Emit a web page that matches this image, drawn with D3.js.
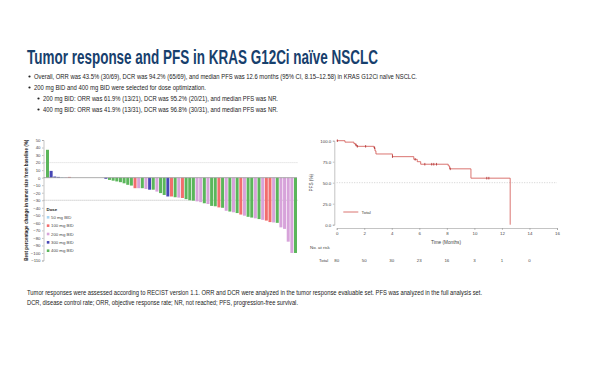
<!DOCTYPE html>
<html>
<head>
<meta charset="utf-8">
<script src="https://cdn.jsdelivr.net/npm/d3@7"></script>
<style>
  body { margin: 0; background: #fff; }
  svg text { font-family: "Liberation Sans", Arial, Helvetica, sans-serif; }
</style>
</head>
<body>
<div id="chart"></div>
<script>
// dose groups and waterfall data (best % change, one bar per patient, sorted)
const doseLabels = ['50 mg BID', '100 mg BID', '200 mg BID', '300 mg BID', '400 mg BID'];

const bestChange = [
    37, 9, 1.5, 1, 0.8, 0.5, 1,
    0, 0, 0, 0, 0, 0, 0, 0, 0,
    -1.5, -3, -4, -5, -6, -7.5, -9.5, -10.5,
    -14, -14, -14, -15, -16, -16, -18.5, -20.5, -23, -25, -25, -26, -26.5, -27,
    -28.5, -30, -30.5, -31.5, -32.5, -34, -35,
    -37.5, -38, -39.5, -40, -44, -45, -46, -47, -49, -50.5, -52, -53, -54, -55,
    -56, -57, -59, -59.5, -60, -66, -68, -85, -100, -100
];

const patientDose = [
    '400 mg BID', '300 mg BID', '300 mg BID', '300 mg BID', '50 mg BID', '200 mg BID', '100 mg BID',
    '400 mg BID', '200 mg BID', '400 mg BID', '50 mg BID', '200 mg BID', '400 mg BID', '100 mg BID', '200 mg BID', '400 mg BID',
    '300 mg BID', '400 mg BID', '400 mg BID', '400 mg BID', '400 mg BID', '400 mg BID', '400 mg BID', '400 mg BID',
    '100 mg BID', '200 mg BID', '400 mg BID', '200 mg BID', '300 mg BID', '400 mg BID', '200 mg BID', '400 mg BID',
    '400 mg BID', '300 mg BID', '100 mg BID', '400 mg BID', '200 mg BID', '100 mg BID',
    '400 mg BID', '400 mg BID', '400 mg BID', '200 mg BID', '200 mg BID', '400 mg BID', '200 mg BID',
    '400 mg BID', '400 mg BID', '100 mg BID', '400 mg BID', '200 mg BID', '400 mg BID', '200 mg BID', '400 mg BID',
    '100 mg BID', '200 mg BID', '400 mg BID', '400 mg BID', '200 mg BID', '400 mg BID',
    '200 mg BID', '100 mg BID', '100 mg BID', '200 mg BID', '400 mg BID', '200 mg BID', '200 mg BID',
    '200 mg BID', '200 mg BID', '400 mg BID'
];

const waterfallTicks = d3.range(-110, 51, 10);
const waterfallRefLines = [20, -30];

// KM curve (PFS, full analysis set)
const kmTimes = [0, 0.6, 1.25, 1.35, 1.45, 2.7, 2.78, 2.85, 4.05, 5.6, 5.85, 6.1, 8.1, 8.2, 9.75, 12.6];
const kmSurv = [100, 98.3, 96.6, 95.0, 93.3, 91.6, 87.9, 84.2, 81.0, 77.8, 75.0, 72.0, 70.0, 66.5, 55.4, 0];
const censorTimes = [0.05, 1.4, 1.5, 2.1, 2.75, 4.05, 5.7, 6.4, 6.9, 7.05, 7.25, 8.25, 10.9, 11.05];

const kmXTicks = [0, 2, 4, 6, 8, 10, 12, 14, 16];
const kmYTicks = [0, 25, 50, 75, 100];
const riskTimes = [0, 2, 4, 6, 8, 10, 12, 14];
const riskCounts = [80, 50, 30, 23, 16, 3, 1, 0];

const titleText = 'Tumor response and PFS in KRAS G12Ci naïve NSCLC';
const bullets = [
    'Overall, ORR was 43.5% (30/69), DCR was 94.2% (65/69), and median PFS was 12.6 months (95% CI, 8.15–12.58) in KRAS G12Ci naïve NSCLC.',
    '200 mg BID and 400 mg BID were selected for dose optimization.',
    '200 mg BID: ORR was 61.9% (13/21), DCR was 95.2% (20/21), and median PFS was NR.',
    '400 mg BID: ORR was 41.9% (13/31), DCR was 96.8% (30/31), and median PFS was NR.'
];
const footnotes = [
    'Tumor responses were assessed according to RECIST version 1.1. ORR and DCR were analyzed in the tumor response evaluable set. PFS was analyzed in the full analysis set.',
    'DCR, disease control rate; ORR, objective response rate; NR, not reached; PFS, progression-free survival.'
];

(function () {

    const doseColor = d3.scaleOrdinal()
        .domain(doseLabels)
        .range(['#a8d5f2', '#f26d6d', '#d7a3da', '#4646b5', '#5bb65b']);

    const svg = d3.select('#chart').append('svg')
        .attr('width', 600)
        .attr('height', 365);

    function addText (g, str, x, y, size, opts) {
        opts = opts || {};
        const t = g.append('text')
            .attr('x', x)
            .attr('y', y)
            .attr('font-size', size)
            .attr('fill', opts.fill || '#222')
            .attr('text-anchor', opts.anchor || 'start')
            .text(str);
        if (opts.weight) t.attr('font-weight', opts.weight);
        if (opts.width) t.attr('textLength', opts.width).attr('lengthAdjust', 'spacingAndGlyphs');
        return t;
    }

    /**
     * header text
     */
    const header = svg.append('g');
    addText(header, titleText, 27, 63.5, 20, { fill: '#17406d', weight: 'bold', width: 351 });

    const bulletRows = [
        { x: 34, y: 78.5, w: 383, dot: 29.5 },
        { x: 34, y: 89.5, w: 172, dot: 29.5 },
        { x: 43, y: 100.5, w: 235, dot: 38.5 },
        { x: 43, y: 111.5, w: 235, dot: 38.5 }
    ];
    bullets.forEach((b, i) => {
        const r = bulletRows[i];
        header.append('circle').attr('cx', r.dot).attr('cy', r.y - 2).attr('r', 1.1).attr('fill', '#222');
        addText(header, b, r.x, r.y, 6.6, { width: r.w });
    });

    const foot = svg.append('g');
    addText(foot, footnotes[0], 27, 294.5, 6.6, { width: 455 });
    addText(foot, footnotes[1], 27, 305, 6.6, { width: 271 });

    /**
     * waterfall
     */
    const wf = svg.append('g');
    const wx = d3.scaleBand().domain(d3.range(bestChange.length)).range([46, 297]).paddingInner(0.18);
    const wy = d3.scaleLinear().domain([-110, 50]).range([260.5, 140]);

    waterfallRefLines.forEach(v => {
        wf.append('line')
            .attr('x1', 43.5).attr('x2', 298)
            .attr('y1', wy(v)).attr('y2', wy(v))
            .attr('stroke', v > 0 ? '#cfcfcf' : '#a8a8a8')
            .attr('stroke-width', 0.7)
            .attr('stroke-dasharray', '1.2,0.8');
    });

    wf.selectAll('rect.bar')
        .data(bestChange)
        .join('rect')
        .attr('class', 'bar')
        .attr('x', (d, i) => wx(i))
        .attr('width', wx.bandwidth())
        .attr('y', d => wy(Math.max(0, d)))
        .attr('height', d => Math.abs(wy(d) - wy(0)))
        .attr('fill', (d, i) => doseColor(patientDose[i]));

    wf.append('line')
        .attr('x1', 43.5).attr('x2', 297)
        .attr('y1', wy(0)).attr('y2', wy(0))
        .attr('stroke', '#999')
        .attr('stroke-width', 0.8);

    const wAxis = wf.append('g')
        .attr('transform', 'translate(43.5,0)')
        .call(d3.axisLeft(wy).tickValues(waterfallTicks).tickSize(1.5).tickPadding(1.5));
    wAxis.selectAll('text').attr('font-size', 4.3).attr('fill', '#444')
        .style('font-family', '"Liberation Sans", Arial, sans-serif');
    wAxis.selectAll('line, path').attr('stroke', '#888').attr('stroke-width', 0.5);

    addText(wf, 'Best percentage change in tumor size from baseline (%)', 0, 0, 5.4, { anchor: 'middle', weight: 'bold', width: 121 })
        .attr('transform', `translate(28,${wy(-30)}) rotate(-90)`);

    // legend
    addText(wf, 'Dose', 46.5, 210.5, 4.4, { weight: 'bold' });
    doseLabels.forEach((lab, i) => {
        const cy = 217.3 + i * 8.35;
        wf.append('rect').attr('x', 46.8).attr('y', cy - 1.3).attr('width', 2.6).attr('height', 2.6).attr('fill', doseColor(lab));
        addText(wf, lab, 51, cy + 1.5, 4.3, { fill: '#444' });
    });

    /**
     * KM curve
     */
    const km = svg.append('g');
    const kx = d3.scaleLinear().domain([0, 16]).range([336.7, 557]);
    const ky = d3.scaleLinear().domain([0, 100]).range([224.7, 140.7]);

    km.append('line')
        .attr('x1', kx(0)).attr('x2', kx(16))
        .attr('y1', ky(50)).attr('y2', ky(50))
        .attr('stroke', '#bbb').attr('stroke-width', 0.7).attr('stroke-dasharray', '1,1.5');

    const kmPts = kmTimes.map((t, i) => ({ t: t, s: kmSurv[i] }));
    const kmLine = d3.line().curve(d3.curveStepAfter).x(d => kx(d.t)).y(d => ky(d.s));
    km.append('path')
        .datum(kmPts)
        .attr('d', kmLine)
        .attr('fill', 'none')
        .attr('stroke', '#d0504c')
        .attr('stroke-width', 0.8);

    const survAt = t => {
        let s = 100;
        kmPts.forEach(p => { if (p.t <= t) s = p.s; });
        return s;
    };
    km.selectAll('line.censor')
        .data(censorTimes)
        .join('line')
        .attr('class', 'censor')
        .attr('x1', d => kx(d)).attr('x2', d => kx(d))
        .attr('y1', d => ky(survAt(d)) - 1.3).attr('y2', d => ky(survAt(d)) + 1.3)
        .attr('stroke', '#a81e1e').attr('stroke-width', 0.7);

    const kyAxis = km.append('g')
        .attr('transform', 'translate(334.3,0)')
        .call(d3.axisLeft(ky).tickValues(kmYTicks).tickFormat(d3.format('.1f')).tickSize(1.5).tickPadding(1.5));
    const kxAxis = km.append('g')
        .attr('transform', 'translate(0,228)')
        .call(d3.axisBottom(kx).tickValues(kmXTicks).tickSize(2).tickPadding(2));
    [kyAxis, kxAxis].forEach(a => {
        a.selectAll('text').attr('font-size', 4.4).attr('fill', '#444')
            .style('font-family', '"Liberation Sans", Arial, sans-serif');
        a.selectAll('line, path').attr('stroke', '#888').attr('stroke-width', 0.5);
    });

    addText(km, 'PFS (%)', 0, 0, 4.7, { anchor: 'middle', fill: '#444' })
        .attr('transform', `translate(313,${ky(50)}) rotate(-90)`);
    addText(km, 'Time (Months)', 446, 243.8, 4.7, { anchor: 'middle', fill: '#444' });

    km.append('line')
        .attr('x1', 343.3).attr('x2', 358.3).attr('y1', 212).attr('y2', 212)
        .attr('stroke', '#d0504c').attr('stroke-width', 0.8);
    addText(km, 'Total', 361.5, 213.5, 4.4, { fill: '#444' });

    // number at risk
    addText(km, 'No. at risk', 310, 249, 4.4, { fill: '#444' });
    addText(km, 'Total', 319, 262.3, 4.4, { fill: '#444' });
    km.selectAll('text.risk')
        .data(riskCounts)
        .join('text')
        .attr('class', 'risk')
        .attr('x', (d, i) => kx(riskTimes[i]))
        .attr('y', 262.3)
        .attr('font-size', 4.4)
        .attr('fill', '#444')
        .attr('text-anchor', 'middle')
        .text(d => d);

})();
</script>
</body>
</html>
